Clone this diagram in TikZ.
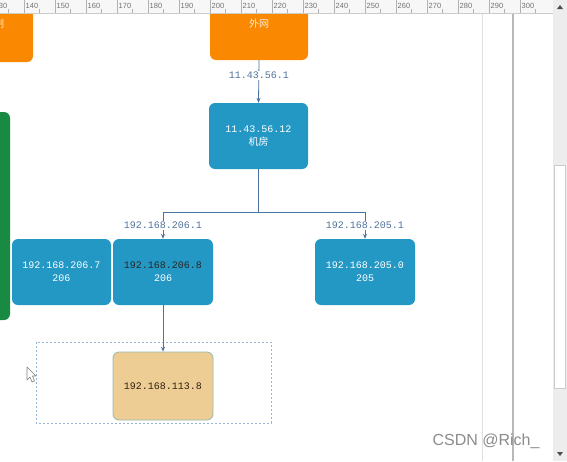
\documentclass[tikz,border=0pt]{standalone}
\usepackage{fontspec}
\setmainfont{Liberation Mono}
\newfontfamily\cjk{Noto Sans CJK SC}
\newfontfamily\uifont{Liberation Sans}
\usetikzlibrary{arrows.meta}
\definecolor{boxblue}{RGB}{36,152,197}
\definecolor{orangebox}{RGB}{250,136,0}
\definecolor{greenbox}{RGB}{24,138,66}
\definecolor{tanbox}{RGB}{237,205,148}
\definecolor{tanedge}{RGB}{150,185,175}
\definecolor{linecol}{RGB}{75,115,160}
\definecolor{labcol}{RGB}{80,115,155}
\definecolor{dashcol}{RGB}{150,180,215}
\tikzset{
  box/.style={rounded corners=6pt, minimum width=99pt, minimum height=66pt, inner sep=0pt,
    align=center, text=white, font=\fontsize{10}{13}\selectfont},
  bluebox/.style={box, fill=boxblue},
  orangeb/.style={box, fill=orangebox},
  conn/.style={draw=linecol, line width=0.8pt, -{Stealth[length=5pt,width=4pt]}},
  wire/.style={draw=linecol, line width=0.8pt},
  iplab/.style={fill=white, inner sep=1pt, text=labcol, font=\fontsize{10}{11}\selectfont},
  rulerlab/.style={anchor=west, inner sep=0pt, text=black!55, font=\uifont\fontsize{7.5}{8}\selectfont}
}
\begin{document}
\begin{tikzpicture}[x=1pt,y=-1pt]
\useasboundingbox (0,0) rectangle (567,461);
\clip (0,0) rectangle (567,461);
\fill[white] (0,0) rectangle (567,461);

% boxes
\node[orangeb, minimum width=66pt, minimum height=84pt] (ctrl) at (0,20) {};
\node[text=white!85!orange, font=\cjk\fontsize{10}{12}\selectfont] (ctrltxt) at (-6,24) {控制};
\node[box, fill=greenbox, minimum width=40pt, minimum height=208pt] (green) at (-10,216) {};
\node[orangeb, minimum width=98pt, minimum height=76pt] (wan) at (259,22) {};
\node[text=white!85!orange, font=\cjk\fontsize{10}{12}\selectfont] (wantxt) at (259,24) {外网};
\node[bluebox] (jf) at (258.5,136) {11.43.56.12\\{\cjk\fontsize{10}{13}\selectfont 机房}};
\node[bluebox] (n2067) at (61.5,272) {192.168.206.7\\206};
\node[bluebox, minimum width=100pt] (n2068) at (163,272) {\textcolor{black!85}{192.168.206.8}\\206};
\node[bluebox, minimum width=100pt] (n2050) at (365,272) {192.168.205.0\\205};
\node[box, fill=tanbox, draw=tanedge, line width=0.8pt, minimum width=100pt, minimum height=68pt,
  text=black!75!brown] (n1138) at (163,386) {192.168.113.8};

% dashed group
\draw[dashcol, line width=0.9pt, dash pattern=on 2pt off 2pt] (36,342) rectangle (271,423);

% connectors
\draw[conn] (wan.south) -- node[iplab, pos=0.35] {11.43.56.1} (jf.north);
\coordinate (bus) at (258.5,212);
\draw[wire] (jf.south) -- (bus);
\draw[conn] (bus) -| node[iplab, pos=0.75] {192.168.206.1} (n2068.north);
\draw[conn] (bus) -| node[iplab, pos=0.75] {192.168.205.1} (n2050.north);
\draw[conn] (n2068.south) -- (n1138.north);

% cursor
\draw[black!50, fill=white, line width=0.6pt, line join=round]
  (27,367) -- (27,380) -- (30,377) -- (32,382) -- (34.5,381) -- (32.5,376) -- (36,376) -- cycle;

% right side lines
\draw[black!12, line width=1pt] (482,13) -- (482,461);
\draw[black!28, line width=1.2pt] (513,13) -- (513,461);

% ruler
\fill[black!3] (0,0) rectangle (553,13);
\draw[black!20, line width=0.6pt] (0,13) -- (553,13);
\foreach \k in {-1,...,16} {
  \pgfmathtruncatemacro{\val}{140+10*\k}
  \pgfmathsetmacro{\xx}{24+31*\k}
  \draw[black!30, line width=0.5pt] (\xx,0) -- (\xx,13);
  \draw[black!30, line width=0.5pt] (\xx+15.5,9) -- (\xx+15.5,13);
  \node[rulerlab] at (\xx+1.5,5.5) {\val};
}

% scrollbar
\fill[black!7] (553,0) rectangle (567,461);
\fill[white] (554.5,165) rectangle (565.5,388);
\draw[black!20, line width=0.5pt] (554.5,165) rectangle (565.5,388);
\fill[black!70] (557,9) -- (563,9) -- (560,5) -- cycle;
\fill[black!70] (557,452) -- (563,452) -- (560,456) -- cycle;

% watermark
\node[text=black!45, font=\uifont\fontsize{16}{18}\selectfont] (wm) at (486,441) {CSDN @Rich\_};
\end{tikzpicture}
\end{document}
